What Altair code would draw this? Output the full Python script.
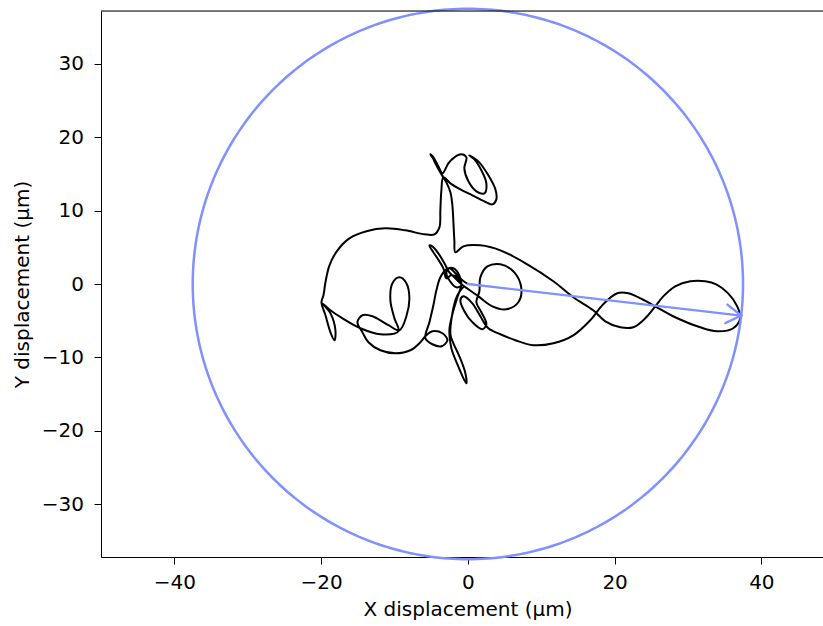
import altair as alt
import numpy as np
import pandas as pd

# Trajectory (µm), in path order
traj_x = [0.0, -0.75, -1.70, -2.52, -2.93, -2.52, -1.57, -0.89, -1.29, -2.25, -2.93, -3.34, -4.15, -4.97, -5.24, -4.84, -4.02, -3.20, -2.52, -1.97,
          -1.02, 0.07, 1.43, 3.34, 5.24, 6.88, 7.29, 6.33, 4.43, 2.66, 1.70, 1.57, 1.16,
          1.84, 2.52, 1.97, 0.61, -0.48, -1.02, -0.61, 0.61, 1.70, 2.79, 4.43, 6.47, 8.92, 11.65, 14.37, 16.68, 18.46, 20.36, 21.86, 23.77, 25.54,
          28.26, 31.67, 33.98, 36.16, 37.12, 36.71, 35.48, 33.85, 32.35, 30.31, 28.26, 26.63, 25.54, 24.18, 22.54, 20.77, 18.73, 17.09, 14.37,
          11.65, 8.10, 4.43, 1.70, -0.61, -1.70,
          -1.84, -1.97, -2.11, -2.38, -2.93, -3.61, -4.29, -4.84, -5.11, -4.70, -4.02, -3.47, -2.66, -1.84, -0.89, -0.20, -0.48, 0.07, 1.16, 2.25,
          2.52, 1.84, 0.89, 0.20, 1.43, 2.79, 3.75, 3.88, 3.34, 2.25, 0.61, -1.02, -2.38, -3.34, -3.61, -3.75, -3.88, -4.56, -5.92, -8.51, -11.24,
          -13.82, -16.14, -17.77, -18.86, -19.41, -19.68, -19.95,
          -19.41, -18.73, -18.18, -18.05, -18.73, -19.82, -18.73, -17.09, -14.64, -11.92, -9.47, -10.01, -10.56, -10.28, -9.33, -8.38, -7.97,
          -8.38, -9.33, -10.83, -13.01, -14.37, -15.05, -14.37, -13.55, -11.92, -9.87, -7.83, -6.47, -5.79, -4.84, -3.47, -2.79, -3.61, -4.84,
          -5.79, -5.24, -4.70, -4.29, -3.75, -2.93, -1.97, -1.16, -0.89, -1.43, -2.11, -2.52, -2.25, -1.43, -0.61, -0.20, -0.34, -1.16, -1.97,
          -2.38, -1.70, -1.02, -0.48]
traj_y = [0.0, 0.50, 1.46, 2.14, 1.59, 0.50, -0.45, -0.18, 0.78, 1.18, 0.78, 2.14, 3.50, 4.73, 5.27, 5.13, 4.18, 2.82, 1.59, 1.05,
          0.10, -0.72, -1.68, -3.04, -3.45, -2.49, -0.59, 1.59, 2.69, 2.39, 0.91, -0.99, -2.49,
          -3.85, -5.49, -6.17, -5.20, -3.71, -2.22, -1.68, -2.63, -4.40, -6.03, -6.85, -7.66, -8.34, -8.07, -6.99, -4.94, -2.74, -1.27, -1.27, -2.08, -3.04,
          -4.53, -5.90, -6.44, -6.03, -4.67, -3.04, -1.27, -0.04, 0.37, 0.37, -0.31, -1.68, -3.04, -4.67, -5.90, -5.90, -5.08, -3.58, -1.81,
          0.37, 2.68, 4.59, 5.27, 5.13, 4.32,
          5.95, 8.40, 10.72, 12.49, 13.85, 14.94, 16.17, 17.26, 17.67, 17.26, 16.03, 15.08, 16.44, 17.26, 17.67, 17.26, 15.76, 13.99, 12.63, 12.35,
          13.72, 15.49, 16.98, 17.53, 16.71, 14.81, 12.90, 11.53, 10.85, 11.26, 12.08, 12.90, 13.72, 14.53, 12.76, 10.04, 7.72, 6.77, 6.77, 7.31, 7.58,
          7.18, 6.22, 4.59, 2.55, 0.23, -1.54, -2.49,
          -4.26, -6.58, -7.67, -6.31, -3.99, -2.63, -3.58, -4.67, -6.03, -6.85, -6.44, -4.67, -2.22, 0.10, 0.91, 0.10, -1.95,
          -4.40, -6.31, -5.61, -4.40, -4.26, -5.22, -6.58, -7.94, -9.03, -9.44, -9.03, -7.94, -7.12, -6.44, -6.71, -7.67, -8.49, -8.21,
          -7.40, -5.22, -2.90, -0.86, 0.91, 2.00, 2.14, 1.18, -0.04, -1.81, -4.13, -6.31, -8.76, -10.94, -12.85, -13.53, -12.15, -9.85, -8.08,
          -6.85, -2.22, -0.86, -0.31]

circle_radius = 37.5
arrow_end_x = 37.25
arrow_end_y = -4.3

x_ticks = [-40, -20, 0, 20, 40]
y_ticks = [-30, -20, -10, 0, 10, 20, 30]
x_domain = [-50, 48.4]
y_domain = [-37.2, 37.2]

x_title = "X displacement (µm)"
y_title = "Y displacement (µm)"

FONT = "DejaVu Sans"
FS = 20
BLUE = "#8091ff"

traj = pd.DataFrame({"x": traj_x, "y": traj_y, "i": range(len(traj_x))})

theta = np.linspace(0, 2 * np.pi, 361)
circ = pd.DataFrame({"x": circle_radius * np.cos(theta),
                     "y": circle_radius * np.sin(theta),
                     "i": range(len(theta))})

# arrow: shaft + open head
ang = np.arctan2(arrow_end_y, arrow_end_x)
head_len, head_ang = 2.4, np.deg2rad(32)
bx1 = arrow_end_x - head_len * np.cos(ang - head_ang)
by1 = arrow_end_y - head_len * np.sin(ang - head_ang)
bx2 = arrow_end_x - head_len * np.cos(ang + head_ang)
by2 = arrow_end_y - head_len * np.sin(ang + head_ang)
arrow = pd.DataFrame({
    "x": [0, arrow_end_x, bx1, arrow_end_x, bx2],
    "y": [0, arrow_end_y, by1, arrow_end_y, by2],
    "g": ["shaft", "shaft", "head", "head", "head"],
    "i": [0, 1, 0, 1, 2],
})

xscale = alt.Scale(domain=x_domain, nice=False, zero=False)
yscale = alt.Scale(domain=y_domain, nice=False, zero=False)

xaxis = alt.Axis(values=x_ticks, title=x_title, grid=False, domainColor="black", domainWidth=1,
                 tickColor="black", tickSize=7, tickWidth=1, labelPadding=8,
                 labelFont=FONT, labelFontSize=FS, labelColor="black",
                 titleFont=FONT, titleFontSize=FS, titleFontWeight="normal", titleColor="black",
                 titleX=366.5, titleY=58, titleBaseline="alphabetic", titleAlign="center")
yaxis = alt.Axis(values=y_ticks, title=y_title, grid=False, domainColor="black", domainWidth=1,
                 tickColor="black", tickSize=7, tickWidth=1, labelPadding=10.5,
                 labelFont=FONT, labelFontSize=FS, labelColor="black",
                 titleFont=FONT, titleFontSize=FS, titleFontWeight="normal", titleColor="black",
                 titleX=-73, titleY=273, titleBaseline="alphabetic", titleAlign="center", titleAngle=270)

base_x = alt.X("x:Q", scale=xscale, axis=xaxis)
base_y = alt.Y("y:Q", scale=yscale, axis=yaxis)

circle_layer = alt.Chart(circ).mark_line(color=BLUE, strokeWidth=2.5, clip=False).encode(
    x=base_x, y=base_y, order="i:Q")

traj_layer = alt.Chart(traj).mark_line(color="black", strokeWidth=2, strokeJoin="round",
                                       interpolate="catmull-rom").encode(
    x="x:Q", y="y:Q", order="i:Q")

arrow_layer = alt.Chart(arrow).mark_line(color=BLUE, strokeWidth=2.3, strokeCap="round").encode(
    x="x:Q", y="y:Q", detail="g:N", order="i:Q")

top_spine = alt.Chart(pd.DataFrame({"x": [x_domain[0]], "x2": [x_domain[1]], "y": [y_domain[1]]})).mark_rule(
    color="black", strokeWidth=1).encode(x="x:Q", x2="x2:Q", y="y:Q")

chart = alt.layer(traj_layer, circle_layer, arrow_layer, top_spine).properties(
    width=722, height=546,
    autosize=alt.AutoSizeParams(type="none"),
    padding={"left": 101, "top": 11, "right": 0, "bottom": 69},
).configure_view(stroke=None).configure(background="white")

chart.save("out.html", embed_options={"renderer": "svg", "actions": False})
